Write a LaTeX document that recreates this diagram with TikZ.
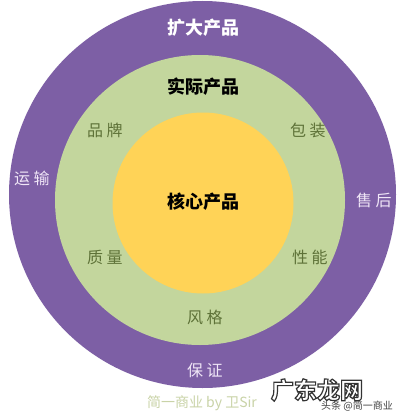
\documentclass[tikz,border=0pt]{standalone}
\usepackage{fontspec}
\newfontfamily\cjk{Noto Sans CJK SC}
\newfontfamily\cjkl[LetterSpace=22]{Noto Sans CJK SC}
\definecolor{outerpurple}{HTML}{7D5FA5}
\definecolor{midgreen}{HTML}{C3D69D}
\definecolor{coreyellow}{HTML}{FFD357}
\definecolor{greentext}{HTML}{5E7238}
\definecolor{lavtext}{HTML}{F0E6F7}
\definecolor{signtext}{HTML}{C9D3A7}
\newcommand{\outlinedtext}[1]{\textcolor{white}{\special{pdf:code 0.2 G 1.2 w 2 Tr}#1\special{pdf:code 0 Tr}}}
\tikzset{
  ring/.style={draw=none},
  title/.style={font=\cjk\bfseries\fontsize{18}{18}\selectfont, inner sep=0pt},
  glabel/.style={font=\cjkl\fontsize{16}{16}\selectfont, text=greentext, inner sep=0pt},
  plabel/.style={font=\cjkl\fontsize{16}{16}\selectfont, text=lavtext, inner sep=0pt},
}
\begin{document}
\begin{tikzpicture}[x=1pt,y=-1pt]
\useasboundingbox[fill=white] (0,0) rectangle (402,420);
% rings
\fill[outerpurple] (202.5,194.5) circle[radius=193.5];
\fill[midgreen] (200,200) circle[radius=145];
\fill[coreyellow] (203,203) circle[radius=90.5];
% titles
\node[title, text=white] (ext) at (203,28) {扩大产品};
\node[title, text=black] (act) at (203,87) {实际产品};
\node[title, text=black] (core) at (203,202) {核心产品};
% green ring labels
\node[glabel] (brand) at (105,130) {品牌};
\node[glabel] (pack) at (308,130) {包装};
\node[glabel] (qual) at (105,257) {质量};
\node[glabel] (perf) at (310,257) {性能};
\node[glabel] (style) at (205,317) {风格};
% purple ring labels
\node[plabel] (trans) at (32,178) {运输};
\node[plabel] (after) at (374,200) {售后};
\node[plabel] (guar) at (205,370) {保证};
% signature and watermark
\node[font=\cjk\fontsize{14}{14}\selectfont, text=signtext, inner sep=0pt] (sign) at (202,403) {简一商业 by 卫Sir};
\node[font=\cjk\bfseries\fontsize{23}{23}\selectfont, inner sep=0pt] (wm) at (317,390) {\outlinedtext{广东龙网}};
\node[font=\cjk\fontsize{10}{10}\selectfont, text=black!75, inner sep=0pt] (tt) at (357,406) {头条 @简一商业};
\end{tikzpicture}
\end{document}
